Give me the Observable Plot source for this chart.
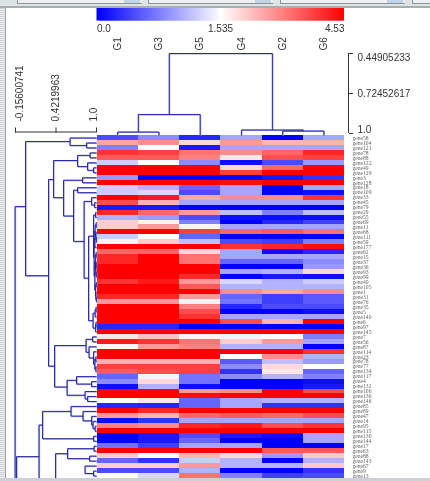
<!DOCTYPE html>
<html>
<head>
<meta charset="utf-8">
<script src="https://cdn.jsdelivr.net/npm/d3@7"></script>
<script src="https://cdn.jsdelivr.net/npm/@observablehq/plot@0.6"></script>
<style>
html,body{margin:0;padding:0;background:#fff;overflow:hidden}
#wrap{position:relative;width:430px;height:481px;overflow:hidden;font-family:"Liberation Sans",Arial,sans-serif}
#wrap svg{position:absolute;left:0;top:0;background:transparent;overflow:visible;filter:blur(.35px)}
.c{position:absolute;z-index:5}
</style>
</head>
<body>
<div id="wrap">
<div class="c" style="left:0;top:0;width:430px;height:6px;background:#dfe3e4"></div>
<div class="c" style="left:17px;top:0;width:124px;height:3px;background:#eef0f0;border-bottom:1px solid #8a9498;border-left:1px solid #8a9498"></div>
<div class="c" style="left:124px;top:0;width:16px;height:3px;background:#c2d4e6"></div>
<div class="c" style="left:148px;top:0;width:124px;height:3px;background:#eef0f0;border-bottom:1px solid #8a9498;border-left:1px solid #8a9498"></div>
<div class="c" style="left:255px;top:0;width:16px;height:3px;background:#c2d4e6"></div>
<div class="c" style="left:280px;top:0;width:124px;height:3px;background:#eef0f0;border-bottom:1px solid #8a9498;border-left:1px solid #8a9498"></div>
<div class="c" style="left:387px;top:0;width:16px;height:3px;background:#c2d4e6"></div>
<div class="c" style="left:412px;top:0;width:18px;height:3px;background:#eef0f0;border-bottom:1px solid #8a9498;border-left:1px solid #8a9498"></div>
<div class="c" style="left:0;top:6px;width:430px;height:2px;background:#a6aeb0"></div>
<div class="c" style="left:0;top:8px;width:5px;height:473px;background:repeating-linear-gradient(0deg,#cfd3d6 0 1px,#eceeef 1px 2px)"></div>
<div class="c" style="left:5px;top:8px;width:1px;height:473px;background:#98a4ac"></div>
<div class="c" style="left:0;top:478px;width:430px;height:3px;background:#cdd0d6"></div>
</div>
<script>
const columns = ["G1","G3","G5","G4","G2","G6"];
const genes = ["gene58","gene104","gene121","gene78","gene88","gene122","gene49","gene129","gene3","gene128","gene18","gene109","gene33","gene45","gene79","gene29","gene55","gene69","gene11","gene68","gene111","gene59","gene177","gene62","gene15","gene37","gene36","gene93","gene99","gene40","gene105","gene1","gene31","gene76","gene35","gene5","gene140","gene6","gene97","gene145","gene7","gene56","gene87","gene114","gene23","gene78","gene77","gene134","gene117","gene4","gene132","gene106","gene136","gene146","gene85","gene89","gene47","gene14","gene95","gene115","gene130","gene144","gene17","gene63","gene88","gene143","gene67","gene9","gene13"];
const expression = [
[.46,.84,.23,1,0,1],
[2.58,2.88,1.98,2.73,2.43,2.43],
[.77,1.535,.15,1,1,1],
[3.93,3.78,3.18,2.88,3.33,4.08],
[3.48,3.48,3.03,1.83,3.63,3.78],
[1.23,1.535,.84,.08,.46,.92],
[4.53,4.53,4.53,1.98,3.33,4.53],
[4.53,4.53,4.53,3.78,4.53,4.53],
[.92,0,0,0,.15,.31],
[4.53,4.53,4.53,4.38,4.53,4.53],
[1.23,1.07,.61,1,0,1],
[1.23,1.3,.46,1,0,.08],
[4.53,4.23,2.58,2.88,2.88,3.93],
[3.63,2.43,1,1,1,1],
[.15,.15,0,0,0,0],
[4.08,3.33,2.73,1.15,.77,1.15],
[1.07,.92,.46,.08,.08,.08],
[2.13,1.69,.77,0,.23,.38],
[2.13,2.73,1.69,1,1,1],
[4.53,4.53,3.78,3.33,3.48,3.18],
[1.23,1.535,.61,0,0,0],
[1.69,2.13,1.15,.46,.38,.77],
[4.53,4.53,4.53,3.93,4.08,4.38],
[3.33,3.33,1.98,1,.08,.23],
[4.08,4.53,3.18,1,1,1],
[4.08,4.53,3.18,.61,.61,.84],
[4.53,4.53,4.53,0,0,.92],
[4.53,4.53,4.53,1,1.07,1.98],
[4.53,4.53,4.08,0,.15,.08],
[3.93,4.23,2.73,1.3,1.07,1.23],
[4.53,4.53,3.48,1.07,1.07,1.07],
[4.53,4.53,4.53,2.88,2.58,2.88],
[4.08,4.08,2.73,.61,.38,.54],
[2.73,2.73,1.69,.69,.38,.54],
[4.53,4.53,3.03,.23,.46,.46],
[4.53,4.53,3.63,0,0,.08],
[4.53,4.53,3.93,1,1,1],
[4.53,4.53,4.53,3.63,2.43,4.53],
[.23,.23,0,0,0,0],
[4.53,4.53,4.53,4.53,4.53,4.53],
[1.83,2.28,1.69,1.46,1.535,.77],
[4.23,3.93,3.18,2.13,2.73,1],
[1.63,2.73,3.03,1.07,1.07,0],
[4.53,4.53,4.53,4.53,4.53,3.93],
[4.53,4.53,4.53,1.535,2.88,1.07],
[2.43,2.43,2.43,.54,1.15,.92],
[3.78,3.78,3.78,.84,1.98,1.535],
[3.48,3.63,3.78,.31,1.83,.61],
[.61,1.46,.69,.84,1.07,.77],
[.84,1.98,.69,0,0,.08],
[.08,1.07,.08,0,0,.15],
[4.53,4.53,2.73,2.88,4.53,3.63],
[4.53,4.53,4.38,4.53,4.53,4.53],
[1.535,1.83,.61,1,1.07,1.07],
[.23,.23,.61,1,.31,.31],
[4.53,4.08,4.53,4.53,4.53,4.53],
[2.73,2.43,3.33,3.48,3.33,3.63],
[.08,.31,1,1,1,1],
[3.03,2.88,4.08,4.23,3.63,3.93],
[4.53,4.53,4.53,4.53,4.53,4.53],
[0,.15,.46,.15,.08,1],
[0,.15,.61,0,0,1],
[.69,.38,1,1,0,0],
[4.53,4.53,4.53,4.53,3.48,3.48],
[2.13,1.535,2.43,1.98,.92,2.13],
[.61,.31,1.23,1.07,0,1.07],
[2.13,2.13,2.73,1.07,1.07,2.13],
[.46,.46,1.07,0,0,.31],
[1.535,1.3,3.18,.77,.38,.46]
];
const colorStops = [0, 1.535, 4.53];
const colorLabels = ["0.0", "1.535", "4.53"];
// top dendrogram: [height, xLeft, xRight, heightLeft, heightRight]
const columnTree = [
[.449,1.75,4.25,.869,.976],
[.869,1,2.5,.99,1.013],
[.99,.5,1.5,1.013,1.013],
[.976,3.5,5,1.013,.983],
[.983,4.5,5.5,1.013,1.013]
];
const columnTicks = [0.44905233, 0.72452617, 1];
// left dendrogram: [distance, rowTop, rowBottom, distanceTop, distanceBottom]
const rowTree = [
[-.163,14.3,69,-.013,-.163],
[-.013,1.2,28.2,.622,.315],
[.622,.5,2,1,.857],
[.857,1.5,2.5,1,1],
[.315,8.85,46.4,.386,.401],
[.386,5.03,12.5,.729,.529],
[.729,4,6.25,.907,.872],
[.907,3.5,4.5,1,1],
[.872,5.5,7,1,.957],
[.957,6.5,7.5,1,1],
[.529,9,16.2,.8,.672],
[.8,8.5,9.5,1,1],
[.672,11,21.3,.729,.822],
[.729,10.5,11.5,1,1],
[.822,13.25,28.7,.929,.886],
[.929,12.5,14,1,.972],
[.972,13.5,14.5,1,1],
[.886,20.25,37.25,.957,.95],
[.957,16,24.5,.986,.965],
[.986,15.5,16.5,1,1],
[.965,20.8,28.3,.975,.975],
[.975,19.2,22.5,.98,1],
[.98,18,20.3,.995,.99],
[.995,17.5,18.5,1,1],
[.99,19.5,21,1,.997],
[.997,20.5,21.5,1,1],
[.975,25.5,31.1,.985,.985],
[.985,24,27,.995,.99],
[.995,23.5,24.5,1,1],
[.99,26,28,.995,.997],
[.995,25.5,26.5,1,1],
[.997,27.5,28.5,1,1],
[.985,30,32.3,.997,.99],
[.997,29.5,30.5,1,1],
[.99,31.5,33,1,.997],
[.997,32.5,33.5,1,1],
[.95,35.75,38.75,.98,.986],
[.98,35,36.5,.993,1],
[.993,34.5,35.5,1,1],
[.986,38,39.5,.993,1],
[.993,37.5,38.5,1,1],
[.401,42.25,50.6,.85,.579],
[.85,41,43.6,.943,.893],
[.943,40.5,41.5,1,1],
[.893,42.5,44.75,1,.957],
[.957,43.5,46,1,.975],
[.975,45,47,.99,.99],
[.99,44.5,45.5,1,1],
[.99,46.5,47.5,1,1],
[.579,49.25,52.25,.715,.836],
[.715,48.5,50,1,.929],
[.929,49.5,50.5,1,1],
[.836,51.5,53,1,.872],
[.872,52.5,53.5,1,1],
[-.142,64.6,69,.179,-.142],
[.179,58.25,69,.229,.179],
[.229,55.5,61,.636,.957],
[.636,54.5,56.45,1,.807],
[.807,55.5,57.4,1,.93],
[.93,56.5,58.25,1,.95],
[.95,57.5,59,1,.98],
[.98,58.5,59.5,1,1],
[.957,60.5,61.5,1,1],
[.415,64,69,.586,.415],
[.586,63,65,.964,.9],
[.964,62.5,63.5,1,1],
[.9,64.5,65.5,1,1],
[.836,66.5,68,1,.957],
[.957,67.5,68.5,1,1]
];
const rowTicks = [-0.15600741, 0.4219963, 1];

const DARK = "#1c1c9e", LIGHT = "#a0a0dc", INK = "#333", W = 430, H = 481;
const color = {type: "linear", domain: colorStops, range: ["#0000ff", "#ffffff", "#ff0000"]};
const base = {width: W, height: H, margin: 0, style: {background: "transparent", fontFamily: "'Liberation Sans',Arial,sans-serif"}};
const colX = {domain: [0, 6], range: [96.5, 344]};
const rowY = {domain: [0, 69], range: [135, 478]};

const cells = expression.flatMap((r, i) => r.map((v, j) => ({i, j, v})));

const heat = Plot.plot({...base, x: {...colX, axis: null}, y: {...rowY, axis: null}, color,
  marks: [
    Plot.rect(cells, {x1: "j", x2: d => d.j + 1, y1: "i", y2: d => d.i + 1, fill: "v", shapeRendering: "crispEdges"}),
    Plot.text(genes, {x: 6, y: (d, i) => i + .5, text: d => d, textAnchor: "start", dx: 8, fontSize: 5.6, fontFamily: "'Liberation Serif',serif", fill: "#666"}),
    Plot.text(columns, {x: (d, i) => i + .5, y: 0, text: d => d, rotate: -90, textAnchor: "start", dy: -85, fontSize: 10, fill: INK})
  ]});

const rampValues = d3.range(0, 4.5, 0.03);
const bar = Plot.plot({...base, x: {type: "linear", domain: colorStops, range: [96.5, 220, 344], axis: null}, y: {domain: [0, 1], range: [8, 20.5], axis: null}, color,
  marks: [
    Plot.rect(rampValues, {x1: d => d, x2: d => Math.min(d + 0.06, 4.53), y1: 0, y2: 1, fill: d => d}),
    Plot.text([0], {x: d => d, y: 1, text: () => colorLabels[0], textAnchor: "start", dy: 8, fontSize: 10, fill: INK}),
    Plot.text([1.535], {x: d => d, y: 1, text: () => colorLabels[1], textAnchor: "middle", dy: 8, fontSize: 10, fill: INK}),
    Plot.text([4.53], {x: d => d, y: 1, text: () => colorLabels[2], textAnchor: "end", dy: 8, fontSize: 10, fill: INK})
  ]});

const segs = tree => tree.flatMap(([h, a, b, ha, hb]) => [
  {h1: h, h2: h, p1: a, p2: b},
  {h1: h, h2: ha, p1: a, p2: a},
  {h1: h, h2: hb, p1: b, p2: b}
]);

const topSegs = segs(columnTree);
const topTree = Plot.plot({...base, marginRight: 82, marginLeft: 96.5,
  x: {...colX, axis: null}, y: {domain: [0.44905233, 1], range: [53, 133], axis: null},
  marks: [
    Plot.link(topSegs, {x1: "p1", x2: "p2", y1: "h1", y2: "h2", stroke: LIGHT, strokeWidth: 1.5, dx: .4, dy: .3}),
    Plot.link(topSegs, {x1: "p1", x2: "p2", y1: "h1", y2: "h2", stroke: DARK, strokeWidth: .9}),
    Plot.axisY({anchor: "right", ticks: columnTicks, tickSize: 4, tickFormat: () => "", stroke: INK}),
    Plot.ruleX([6], {y1: columnTicks[0], y2: 1, dx: 4, stroke: INK}),
    Plot.text([columnTicks[0]], {x: 6, y: d => d, text: d => String(d), textAnchor: "start", dx: 13, dy: 4, fontSize: 10, fill: INK}),
    Plot.text([columnTicks[1]], {x: 6, y: d => d, text: d => String(d), textAnchor: "start", dx: 13, fontSize: 10, fill: INK}),
    Plot.text([1], {x: 6, y: d => d, text: () => "1.0", textAnchor: "start", dx: 13, dy: -3.5, fontSize: 10, fill: INK})
  ]});

const leftSegs = segs(rowTree);
const leftTree = Plot.plot({...base, marginTop: 131.5,
  x: {domain: [rowTicks[0], 1], range: [15, 96], axis: null}, y: {...rowY, axis: null},
  marks: [
    Plot.link(leftSegs, {x1: "h1", x2: "h2", y1: "p1", y2: "p2", stroke: LIGHT, strokeWidth: 1.5, dx: .4, dy: .3}),
    Plot.link(leftSegs, {x1: "h1", x2: "h2", y1: "p1", y2: "p2", stroke: DARK, strokeWidth: .9}),
    Plot.axisX({anchor: "top", ticks: rowTicks, tickSize: 5, tickFormat: () => "", stroke: INK}),
    Plot.ruleY([0], {x1: rowTicks[0], x2: 1, dy: -3.5, stroke: INK}),
    Plot.text([rowTicks[0]], {x: d => d, y: 0, text: d => String(d), rotate: -90, textAnchor: "start", dx: 4, dy: -14, fontSize: 10, fill: INK}),
    Plot.text([rowTicks[1]], {x: d => d, y: 0, text: d => String(d), rotate: -90, textAnchor: "start", dy: -14, fontSize: 10, fill: INK}),
    Plot.text([1], {x: d => d, y: 0, text: () => "1.0", rotate: -90, textAnchor: "start", dx: -3, dy: -14, fontSize: 10, fill: INK})
  ]});

const wrap = document.getElementById("wrap");
[heat, bar, topTree, leftTree].forEach(p => wrap.appendChild(p));
</script>
</body>
</html>
